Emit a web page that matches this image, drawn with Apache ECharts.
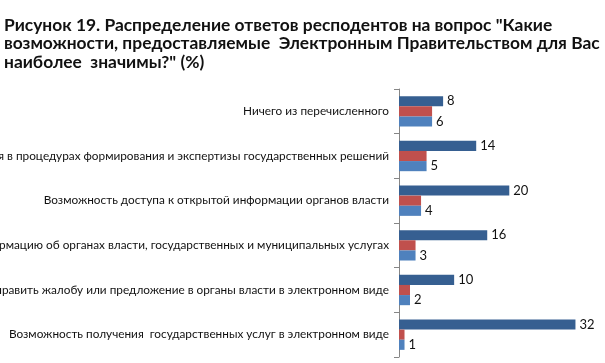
<!DOCTYPE html>
<html><head><meta charset="utf-8">
<script src="https://cdn.jsdelivr.net/npm/echarts@6/dist/echarts.min.js"></script>
<style>html,body{margin:0;padding:0;background:#fff}#c{width:605px;height:363px}</style>
</head><body><div id="c"></div>
<script>
const titleText = 'Рисунок 19. Распределение ответов респодентов на вопрос "Какие\nвозможности, предоставляемые  Электронным Правительством для Вас\nнаиболее  значимы?" (%)';
const categories = [
  'Ничего из перечисленного',
  'Возможность участия в процедурах формирования и экспертизы государственных решений',
  'Возможность доступа к открытой информации органов власти',
  'Возможность получать информацию об органах власти, государственных и муниципальных услугах',
  'Возможность отправить жалобу или предложение в органы власти в электронном виде',
  'Возможность получения  государственных услуг в электронном виде'
];
const seriesA = [8, 14, 20, 16, 10, 32];
const seriesB = [6, 5, 4, 3, 2, 1];
const seriesC = [6, 5, 4, 3, 2, 1];
const FONT = 'Lato';
const chart = echarts.init(document.getElementById('c'));
chart.setOption({
  animation: false,
  backgroundColor: '#fff',
  title: {
    text: titleText, left: 4, top: 16, padding: 0,
    textStyle: {fontFamily: FONT, fontWeight: 'bold', fontSize: 17.4, lineHeight: 18.5, color: '#111'}
  },
  grid: {left: 399, right: 13, top: 89, bottom: 6, containLabel: false, outerBoundsMode: 'none'},
  xAxis: {type: 'value', min: 0, max: 35, show: false},
  yAxis: {
    type: 'category', data: categories, inverse: true,
    axisLine: {show: true, lineStyle: {color: '#868686', width: 1}},
    axisTick: {show: true, length: 5, lineStyle: {color: '#868686'}},
    axisLabel: {margin: 10, fontFamily: FONT, fontSize: 11.8, color: '#111'}
  },
  series: [
    {type: 'bar', data: seriesA, barGap: '0%', barCategoryGap: '32%', itemStyle: {color: '#365F91'},
     label: {show: true, position: 'right', distance: 4, fontFamily: FONT, fontSize: 13, color: '#111'}},
    {type: 'bar', data: seriesB, itemStyle: {color: '#C0504D'}},
    {type: 'bar', data: seriesC, itemStyle: {color: '#4F81BD'},
     label: {show: true, position: 'right', distance: 4, fontFamily: FONT, fontSize: 13, color: '#111'}}
  ]
});
</script></body></html>
